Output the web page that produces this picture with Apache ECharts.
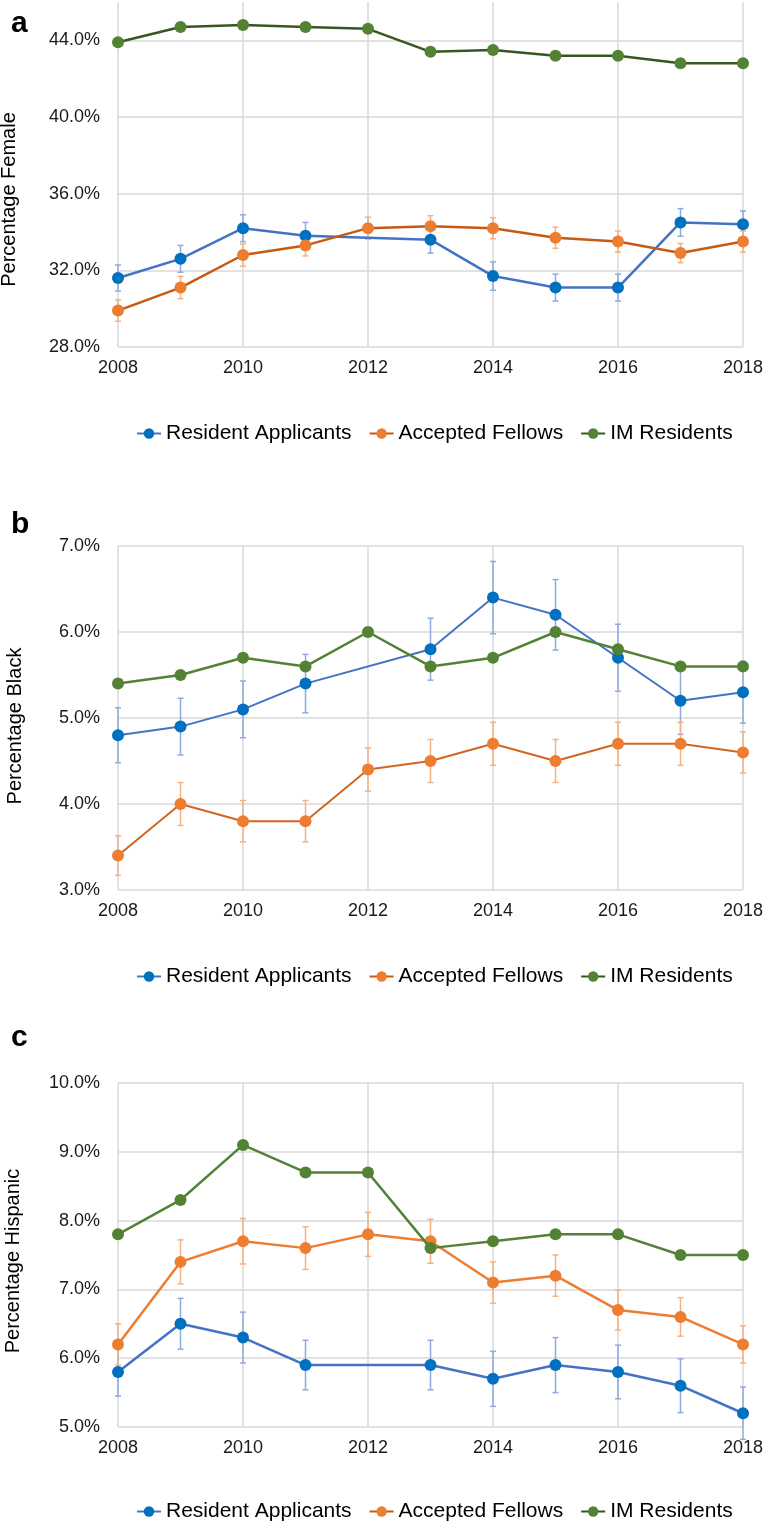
<!DOCTYPE html>
<html>
<head>
<meta charset="utf-8">
<script src="https://cdn.jsdelivr.net/npm/echarts@6/dist/echarts.min.js"></script>
<style>
  html, body { margin: 0; padding: 0; background: #fff; }
  #main { width: 766px; height: 1523px; }
</style>
</head>
<body>
<div id="main"></div>
<script>
var years = ['2008','2009','2010','2011','2012','2013','2014','2015','2016','2017','2018'];
var seriesNames = ['Resident Applicants', 'Accepted Fellows', 'IM Residents'];

// a: female
var femaleApplicants    = [31.6, 32.6, 34.2, 33.8, null, 33.6, 31.7, 31.1, 31.1, 34.5, 34.4];
var femaleApplicantsErr = [0.68, 0.7, 0.7, 0.7, null, 0.7, 0.74, 0.7, 0.7, 0.72, 0.7];
var femaleFellows       = [29.9, 31.1, 32.8, 33.3, 34.2, 34.3, 34.2, 33.7, 33.5, 32.9, 33.5];
var femaleFellowsErr    = [0.56, 0.58, 0.58, 0.55, 0.57, 0.55, 0.55, 0.55, 0.55, 0.5, 0.55];
var femaleResidents     = [43.9, 44.7, 44.8, 44.7, 44.6, 43.4, 43.5, 43.2, 43.2, 42.8, 42.8];

// b: black
var blackApplicants    = [4.8, 4.9, 5.1, 5.4, null, 5.8, 6.4, 6.2, 5.7, 5.2, 5.3];
var blackApplicantsErr = [0.32, 0.33, 0.33, 0.34, null, 0.36, 0.42, 0.41, 0.39, 0.39, 0.36];
var blackFellows       = [3.4, 4.0, 3.8, 3.8, 4.4, 4.5, 4.7, 4.5, 4.7, 4.7, 4.6];
var blackFellowsErr    = [0.23, 0.25, 0.24, 0.24, 0.25, 0.25, 0.25, 0.25, 0.25, 0.25, 0.24];
var blackResidents     = [5.4, 5.5, 5.7, 5.6, 6.0, 5.6, 5.7, 6.0, 5.8, 5.6, 5.6];

// c: hispanic
var hispApplicants    = [5.8, 6.5, 6.3, 5.9, null, 5.9, 5.7, 5.9, 5.8, 5.6, 5.2];
var hispApplicantsErr = [0.35, 0.37, 0.37, 0.36, null, 0.36, 0.4, 0.4, 0.39, 0.39, 0.38];
var hispFellows       = [6.2, 7.4, 7.7, 7.6, 7.8, 7.7, 7.1, 7.2, 6.7, 6.6, 6.2];
var hispFellowsErr    = [0.3, 0.32, 0.33, 0.31, 0.32, 0.32, 0.3, 0.3, 0.29, 0.28, 0.27];
var hispResidents     = [7.8, 8.3, 9.1, 8.7, 8.7, 7.6, 7.7, 7.8, 7.8, 7.5, 7.5];

var FONT = 'Liberation Sans, Arial, sans-serif';
var myChart = echarts.init(document.getElementById('main'));

// panel layout
var panels = [
  { letter: 'a', letterTop: 4, top: 2, height: 345, min: 28, max: 46, step: 4,
    name: 'Percentage Female', nameGap: 99, nameShift: 50, legendTop: 418,
    lines: [femaleApplicants, femaleFellows, femaleResidents], errs: [femaleApplicantsErr, femaleFellowsErr],
    lineColors: ['#4472C4', '#C55A11', '#375623'], widths: [2.5, 2.5, 2.5], hideMax: true },
  { letter: 'b', letterTop: 505, top: 546, height: 344, min: 3, max: 7, step: 1,
    name: 'Percentage Black', nameGap: 93, nameShift: 16, legendTop: 961,
    lines: [blackApplicants, blackFellows, blackResidents], errs: [blackApplicantsErr, blackFellowsErr],
    lineColors: ['#4472C4', '#D2661F', '#548235'], widths: [2, 2, 2.5] },
  { letter: 'c', letterTop: 1018, top: 1083, height: 344, min: 5, max: 10, step: 1,
    name: 'Percentage Hispanic', nameGap: 95, nameShift: 12, legendTop: 1496,
    lines: [hispApplicants, hispFellows, hispResidents], errs: [hispApplicantsErr, hispFellowsErr],
    lineColors: ['#4472C4', '#ED7D31', '#548235'], widths: [2.5, 2.5, 2.5] }
];
var markerColors = ['#0070C0', '#ED7D31', '#548235'];
var errColors = ['#8FAADC', '#F4B183'];

function errData(vals, errs) {
  var out = [];
  vals.forEach(function (v, i) {
    if (v != null && errs[i] != null) out.push([i, v - errs[i], v + errs[i]]);
  });
  return out;
}

function renderErr(params, api) {
  var x = api.value(0);
  var lo = api.coord([x, api.value(1)]);
  var hi = api.coord([x, api.value(2)]);
  var st = { stroke: api.visual('color'), lineWidth: 1.5 };
  return {
    type: 'group',
    children: [
      { type: 'line', shape: { x1: lo[0], y1: lo[1], x2: hi[0], y2: hi[1] }, style: st },
      { type: 'line', shape: { x1: lo[0] - 3, y1: lo[1], x2: lo[0] + 3, y2: lo[1] }, style: st },
      { type: 'line', shape: { x1: hi[0] - 3, y1: hi[1], x2: hi[0] + 3, y2: hi[1] }, style: st }
    ]
  };
}

var option = {
  animation: false,
  backgroundColor: '#fff',
  title: [], grid: [], xAxis: [], yAxis: [], legend: [], series: []
};

panels.forEach(function (p, k) {
  option.title.push({
    text: p.letter, left: 6, top: p.letterTop,
    textStyle: { fontFamily: FONT, fontSize: 30, fontWeight: 'bold', color: '#000' }
  });
  option.grid.push({ left: 118, right: 23, top: p.top, height: p.height, containLabel: false, outerBoundsMode: 'none' });
  option.xAxis.push({
    type: 'category', gridIndex: k, data: years, boundaryGap: false,
    axisLine: { show: false }, axisTick: { show: false },
    axisLabel: { interval: 1, margin: 12, fontFamily: FONT, fontSize: 18, color: '#1a1a1a' },
    splitLine: { show: true, interval: 1, lineStyle: { color: '#D9D9D9', width: 1.5 } }
  });
  option.yAxis.push({
    type: 'value', gridIndex: k, min: p.min, max: p.max, interval: p.step,
    name: p.name, nameLocation: 'middle', nameGap: p.nameGap, nameRotate: 90,
    nameTextStyle: { fontFamily: FONT, fontSize: 20, color: '#000', padding: [0, p.nameShift, 0, 0] },
    axisLine: { show: false }, axisTick: { show: false },
    axisLabel: {
      margin: 18, fontFamily: FONT, fontSize: 18, color: '#1a1a1a', showMaxLabel: !p.hideMax,
      formatter: function (v) { return v.toFixed(1) + '%'; }
    },
    splitLine: { show: true, showMaxLine: !p.hideMax, lineStyle: { color: '#D9D9D9', width: 1.5 } }
  });
  option.legend.push({
    data: seriesNames, left: 131, top: p.legendTop,
    itemWidth: 24, itemHeight: 13, itemGap: 17,
    textStyle: { fontFamily: FONT, fontSize: 21, color: '#000' }
  });

  // error bars first, so markers sit on top
  p.errs.forEach(function (e, j) {
    option.series.push({
      type: 'custom', name: 'err' + k + j, xAxisIndex: k, yAxisIndex: k,
      itemStyle: { color: errColors[j] }, renderItem: renderErr,
      encode: { x: 0, y: [1, 2] }, data: errData(p.lines[j], e), z: 2
    });
  });
  p.lines.forEach(function (vals, j) {
    option.series.push({
      type: 'line', name: seriesNames[j], xAxisIndex: k, yAxisIndex: k,
      data: vals, connectNulls: true, symbol: 'circle', symbolSize: 12,
      lineStyle: { color: p.lineColors[j], width: p.widths[j] },
      itemStyle: { color: markerColors[j] }, z: 3 + j
    });
  });
});

myChart.setOption(option);
</script>
</body>
</html>
